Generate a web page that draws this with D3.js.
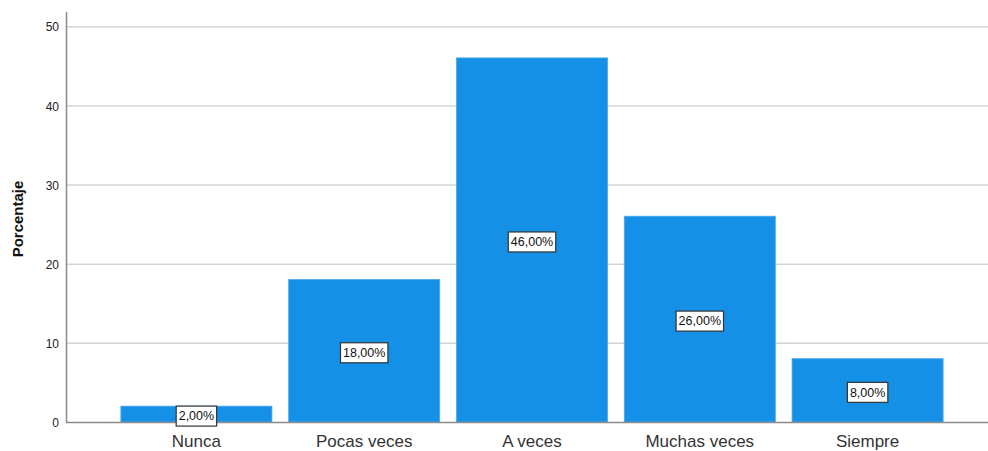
<!DOCTYPE html>
<html><head><meta charset="utf-8">
<script src="https://cdn.jsdelivr.net/npm/d3@7"></script>
<style>body{margin:0;background:#fff;}svg{display:block;font-family:"Liberation Sans",Arial,sans-serif;}</style>
</head><body>
<svg id="c" width="988" height="451"></svg>
<script>
const categories = ["Nunca","Pocas veces","A veces","Muchas veces","Siempre"];
const values = [2,18,46,26,8];
const labels = ["2,00%","18,00%","46,00%","26,00%","8,00%"];
const yTicks = [0,10,20,30,40,50];
const yTitle = "Porcentaje";

const svg = d3.select("#c");
const y = d3.scaleLinear().domain([0,51.8]).range([422,12]);
const x = d3.scaleBand().domain(categories).range([112.5,951.5]).paddingInner(0.1).paddingOuter(0.05);

svg.append("g").selectAll("line").data(yTicks.filter(d=>d>0)).join("line")
  .attr("x1",66).attr("x2",988).attr("y1",d=>y(d)+0.5).attr("y2",d=>y(d)+0.5)
  .attr("stroke","#d4d4d4").attr("stroke-width",1.5);

svg.append("g").selectAll("rect").data(values).join("rect")
  .attr("x",(d,i)=>x(categories[i])).attr("width",x.bandwidth())
  .attr("y",d=>y(d)).attr("height",d=>422-y(d))
  .attr("fill","#1490e6").attr("stroke","#4aa8ec").attr("stroke-width",0.8);

svg.append("line").attr("x1",66.5).attr("x2",66.5).attr("y1",12).attr("y2",423).attr("stroke","#8a8a8a").attr("stroke-width",1.5);
svg.append("line").attr("x1",66).attr("x2",988).attr("y1",422.5).attr("y2",422.5).attr("stroke","#8a8a8a").attr("stroke-width",1.5);

svg.append("g").selectAll("text").data(yTicks).join("text")
  .attr("x",59).attr("y",d=>y(d)+1).attr("dy","0.35em").attr("text-anchor","end")
  .attr("font-size",12).attr("fill","#222").text(d=>d);

svg.append("text").attr("transform","translate(23,219) rotate(-90)").attr("text-anchor","middle")
  .attr("font-size",15).attr("font-weight","bold").attr("fill","#111").text(yTitle);

svg.append("g").selectAll("text").data(categories).join("text")
  .attr("x",d=>x(d)+x.bandwidth()/2).attr("y",447).attr("text-anchor","middle")
  .attr("font-size",17).attr("fill","#333").text(d=>d);

const lg = svg.append("g").selectAll("g").data(values).join("g")
  .attr("transform",(d,i)=>`translate(${x(categories[i])+x.bandwidth()/2},${(y(d)+422)/2+2})`);
lg.each(function(d,i){
  const g = d3.select(this);
  const t = g.append("text").attr("text-anchor","middle").attr("dy","0.35em")
    .attr("font-size",12.5).attr("fill","#111").text(labels[i]);
  const bb = t.node().getBBox();
  g.insert("rect","text").attr("x",bb.x-2.5).attr("y",-10).attr("width",bb.width+5).attr("height",20)
    .attr("fill","#fff").attr("stroke","#333").attr("stroke-width",1.2);
});
</script>
</body></html>
